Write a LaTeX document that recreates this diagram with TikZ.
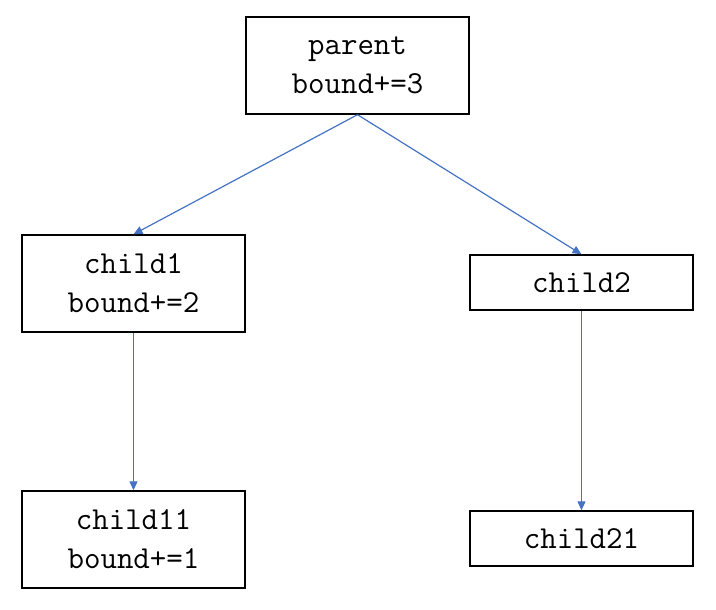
\documentclass[tikz,border=0pt]{standalone}
\usepackage{fontspec}
\setmonofont{Latin Modern Mono}
\usepackage{tikz}
\usetikzlibrary{arrows.meta}
\definecolor{linkblue}{HTML}{4472C4}
\tikzset{box/.style={draw=black,line width=1.4pt,fill=white,minimum width=223pt,align=center,
  font=\fontsize{32}{39}\selectfont\ttfamily,inner sep=0pt},
tall/.style={box,minimum height=97pt},
flat/.style={box,minimum height=55pt},
link/.style={-{Triangle[length=9pt,width=8pt]},line width=1.2pt,linkblue}}

\begin{document}
\begin{tikzpicture}[x=1pt,y=-1pt]
\useasboundingbox (0,0) rectangle (716,610);
\node[tall] (parent) at (357.5,65.5) {parent\\bound+=3};
\node[tall] (child1) at (133.5,283.5) {child1\\bound+=2};
\node[flat] (child2) at (581.5,282.5) {child2};
\node[tall] (child11) at (133.5,539.5) {child11\\bound+=1};
\node[flat] (child21) at (581.5,538.5) {child21};
% tree edges
\draw[link] (parent.south) -- (child1.north);
\draw[link] (parent.south) -- (child2.north);
\draw[link] (child1.south) -- (child11.north);
\draw[link] (child2.south) -- (child21.north);
\end{tikzpicture}
\end{document}
